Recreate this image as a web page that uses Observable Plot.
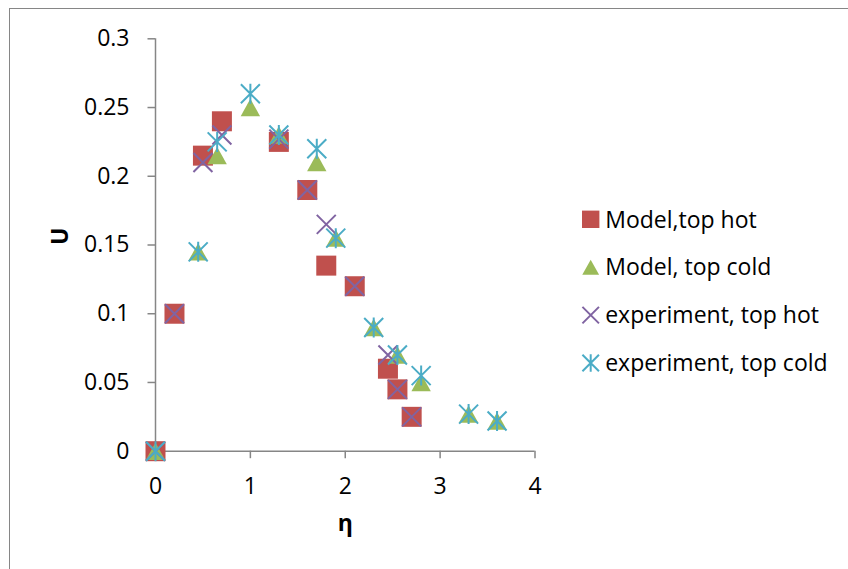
<!DOCTYPE html>
<html>
<head>
<meta charset="utf-8">
<script src="https://cdn.jsdelivr.net/npm/d3@7"></script>
<script src="https://cdn.jsdelivr.net/npm/@observablehq/plot@0.6"></script>
<style>
  html, body { margin: 0; padding: 0; background: #fff; }
  #wrap { position: relative; width: 848px; height: 569px; overflow: hidden; font-family: "Open Sans", sans-serif; }
  #border { position: absolute; left: 9px; top: 8px; width: 900px; height: 620px; border: 1.5px solid #868686; box-sizing: border-box; }
  #chart, #legend { position: absolute; left: 0; top: 0; }
</style>
</head>
<body>
<div id="wrap">
  <div id="border"></div>
  <div id="chart"></div>
  <svg id="legend" width="848" height="569"></svg>
</div>
<script>
// Velocity profiles U(η): model vs. experiment, heated / cooled top wall
const etaModelHot = [0, 0.2, 0.5, 0.7, 1.3, 1.6, 1.8, 2.1, 2.45, 2.55, 2.7];
const uModelHot   = [0, 0.1, 0.215, 0.24, 0.225, 0.19, 0.135, 0.12, 0.06, 0.045, 0.025];

const etaModelCold = [0, 0.45, 0.65, 1.0, 1.3, 1.7, 1.9, 2.3, 2.55, 2.8, 3.3, 3.6];
const uModelCold   = [0, 0.145, 0.215, 0.25, 0.23, 0.21, 0.155, 0.09, 0.07, 0.05, 0.027, 0.022];

const etaExpHot = [0, 0.2, 0.5, 0.7, 1.3, 1.6, 1.8, 2.1, 2.45, 2.55, 2.7];
const uExpHot   = [0, 0.1, 0.21, 0.23, 0.227, 0.19, 0.165, 0.12, 0.07, 0.045, 0.025];

const etaExpCold = [0, 0.45, 0.65, 1.0, 1.3, 1.7, 1.9, 2.3, 2.55, 2.8, 3.3, 3.6];
const uExpCold   = [0, 0.145, 0.225, 0.26, 0.23, 0.22, 0.155, 0.09, 0.07, 0.055, 0.027, 0.022];

const seriesLabels = ["Model,top hot", "Model, top cold", "experiment, top hot", "experiment, top cold"];
const seriesColors = ["#C0504D", "#9BBB59", "#8064A2", "#4BACC6"];

const xTicks = [0, 1, 2, 3, 4];
const xTickLabels = ["0", "1", "2", "3", "4"];
const yTicks = [0, 0.05, 0.1, 0.15, 0.2, 0.25, 0.3];
const yTickLabels = ["0", "0.05", "0.1", "0.15", "0.2", "0.25", "0.3"];

// Spreadsheet-style marker shapes (size = π r²)
const rad = size => Math.sqrt(size / Math.PI);
const squareSym = { draw(ctx, size) { const r = rad(size); ctx.rect(-r, -r, 2 * r, 2 * r); } };
const triangleSym = { draw(ctx, size) {
  const r = rad(size);
  ctx.moveTo(0, -0.87 * r); ctx.lineTo(0.97 * r, 0.87 * r); ctx.lineTo(-0.97 * r, 0.87 * r); ctx.closePath();
} };
const timesSym = { draw(ctx, size) {
  const h = 0.95 * rad(size);
  ctx.moveTo(-h, -h); ctx.lineTo(h, h); ctx.moveTo(h, -h); ctx.lineTo(-h, h);
} };
const starSym = { draw(ctx, size) {
  const r = rad(size), h = 0.95 * r;
  ctx.moveTo(-h, -h); ctx.lineTo(h, h); ctx.moveTo(h, -h); ctx.lineTo(-h, h);
  ctx.moveTo(0, -r); ctx.lineTo(0, r);
} };
const symbols = [squareSym, triangleSym, timesSym, starSym];
const filled = [true, true, false, false];

const fmt = (ticks, labels) => d => labels[ticks.indexOf(d)] ?? String(d);

const chart = Plot.plot({
  width: 848,
  height: 569,
  marginLeft: 155,
  marginRight: 313.5,
  marginTop: 38.3,
  marginBottom: 118.3,
  style: { fontFamily: "'Open Sans', sans-serif", fontSize: "23px", color: "#000", background: "transparent", overflow: "visible" },
  x: { domain: [0, 4] },
  y: { domain: [0, 0.3] },
  marks: [
    Plot.axisX({ ticks: xTicks, tickFormat: fmt(xTicks, xTickLabels), tickSize: 7.5, tickPadding: 18.5, stroke: "#868686", strokeWidth: 1.5, fill: "#000", label: null }),
    Plot.axisY({ ticks: yTicks, tickFormat: fmt(yTicks, yTickLabels), tickSize: 7.5, tickPadding: 18.5, stroke: "#868686", strokeWidth: 1.5, fill: "#000", label: null }),
    Plot.ruleX([0], { stroke: "#868686", strokeWidth: 1.5 }),
    Plot.ruleY([0], { stroke: "#868686", strokeWidth: 1.5 }),
    Plot.text(["η"], { frameAnchor: "bottom", dy: 80, fontWeight: "bold", fill: "#000" }),
    Plot.text(["U"], { frameAnchor: "left", dx: -95, rotate: -90, fontWeight: "bold", fill: "#000" }),
    Plot.dot(etaModelHot, { x: etaModelHot, y: uModelHot, symbol: squareSym, r: 10, fill: seriesColors[0], stroke: "none" }),
    Plot.dot(etaModelCold, { x: etaModelCold, y: uModelCold, symbol: triangleSym, r: 10, fill: seriesColors[1], stroke: "none" }),
    Plot.dot(etaExpHot, { x: etaExpHot, y: uExpHot, symbol: timesSym, r: 10, fill: "none", stroke: seriesColors[2], strokeWidth: 2 }),
    Plot.dot(etaExpCold, { x: etaExpCold, y: uExpCold, symbol: starSym, r: 10, fill: "none", stroke: seriesColors[3], strokeWidth: 2 })
  ]
});
document.getElementById("chart").append(chart);

// Legend on the right
const legend = d3.select("#legend");
const rows = legend.selectAll("g").data(seriesLabels).join("g")
  .attr("transform", (d, i) => `translate(590.7, ${219.3 + i * 47.9})`);
rows.append("path")
  .attr("d", (d, i) => d3.symbol(symbols[i], Math.PI * 8.7 * 8.7)())
  .attr("fill", (d, i) => filled[i] ? seriesColors[i] : "none")
  .attr("stroke", (d, i) => filled[i] ? "none" : seriesColors[i])
  .attr("stroke-width", 2);
rows.append("text")
  .attr("x", 14.5)
  .attr("y", 8.2)
  .attr("font-family", "'Open Sans', sans-serif")
  .attr("font-size", 23)
  .attr("fill", "#000")
  .text(d => d);
</script>
</body>
</html>
